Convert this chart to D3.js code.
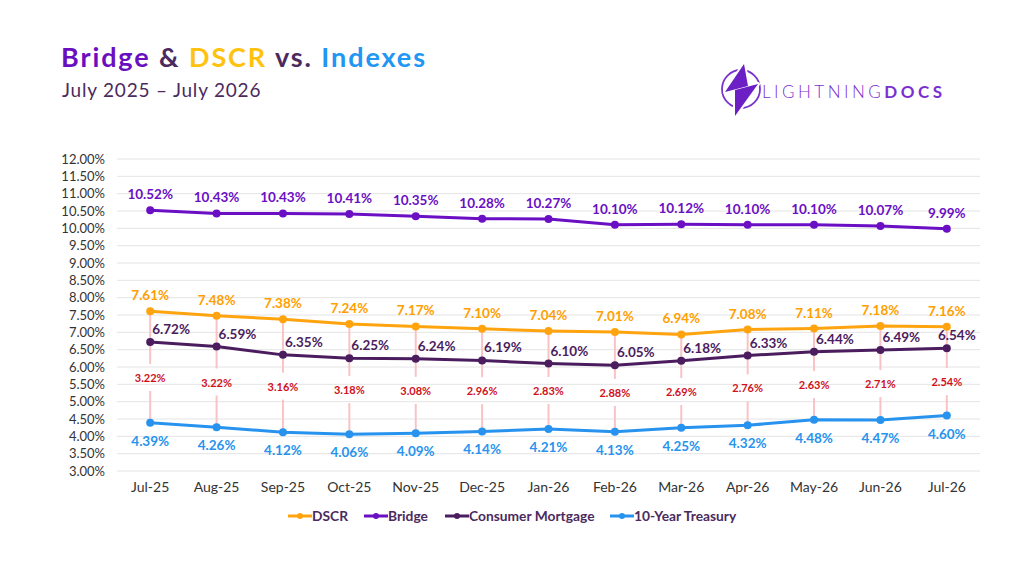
<!DOCTYPE html>
<html lang="en">
<head>
    <meta charset="UTF-8">
    <title>Bridge & DSCR vs. Indexes</title>
    <style>
        body { margin: 0; background: #fff; }
        svg { font-family: Lato, 'Open Sans', sans-serif; }
    </style>
</head>
<body>

    <svg id="svg" width="1024" height="576"></svg>

    <script src="https://d3js.org/d3.v7.min.js"></script>
    <script>
        // chart data
        const months = ['Jul-25', 'Aug-25', 'Sep-25', 'Oct-25', 'Nov-25', 'Dec-25', 'Jan-26',
            'Feb-26', 'Mar-26', 'Apr-26', 'May-26', 'Jun-26', 'Jul-26']
        const dscr = [7.61, 7.48, 7.38, 7.24, 7.17, 7.10, 7.04, 7.01, 6.94, 7.08, 7.11, 7.18, 7.16]
        const bridge = [10.52, 10.43, 10.43, 10.41, 10.35, 10.28, 10.27, 10.10, 10.12, 10.10, 10.10, 10.07, 9.99]
        const mortgage = [6.72, 6.59, 6.35, 6.25, 6.24, 6.19, 6.10, 6.05, 6.18, 6.33, 6.44, 6.49, 6.54]
        const treasury = [4.39, 4.26, 4.12, 4.06, 4.09, 4.14, 4.21, 4.13, 4.25, 4.32, 4.48, 4.47, 4.60]
        const spread = [3.22, 3.22, 3.16, 3.18, 3.08, 2.96, 2.83, 2.88, 2.69, 2.76, 2.63, 2.71, 2.54]
        const yTicks = d3.range(3, 12.001, 0.5)

        const svg = d3.select('#svg')

        // scales
        const xScale = d3.scalePoint()
            .domain(months)
            .range([117, 980])
            .padding(0.5)

        const yScale = d3.scaleLinear()
            .domain([3, 12])
            .range([471, 159])

        // title
        const title = svg.append('text')
            .attr('x', 61)
            .attr('y', 67)
            .style('font-size', '27px')
            .style('font-weight', 'bold')
            .style('letter-spacing', '1.9px')
        title.append('tspan').text('Bridge').attr('fill', '#6a0fbf')
        title.append('tspan').text(' & ').attr('fill', '#4b2a5e')
        title.append('tspan').text('DSCR').attr('fill', '#ffc20e')
        title.append('tspan').text(' vs. ').attr('fill', '#4b2a5e')
        title.append('tspan').text('Indexes').attr('fill', '#2196f3')

        svg.append('text')
            .text('July 2025 – July 2026')
            .attr('x', 62)
            .attr('y', 97)
            .attr('fill', '#4b2a5e')
            .style('font-size', '19px')
            .style('letter-spacing', '0.8px')

        // logo
        const logo = svg.append('g')
        logo.append('circle')
            .attr('cx', 741)
            .attr('cy', 89)
            .attr('r', 19)
            .attr('fill', 'none')
            .attr('stroke', '#7a35cc')
            .attr('stroke-width', 1.8)
        const boltPath = 'M744,64 L725,92 L748,86 Z M735,90 L758,84 L735,116 Z'
        logo.append('path')
            .attr('d', boltPath)
            .attr('fill', 'none')
            .attr('stroke', '#fff')
            .attr('stroke-width', 4)
            .attr('stroke-linejoin', 'round')
        logo.append('path')
            .attr('d', boltPath)
            .attr('fill', '#6c1fc4')
        const logoText = logo.append('text')
            .attr('x', 762)
            .attr('y', 98)
            .attr('fill', '#7a2fd0')
            .style('font-size', '17px')
            .style('letter-spacing', '3.5px')
        logoText.append('tspan').text('LIGHTNING').style('font-weight', 300)
        logoText.append('tspan').text('DOCS').style('font-weight', 'bold')

        // gridlines + y labels
        svg.append('g')
            .selectAll('line')
            .data(yTicks)
            .enter()
            .append('line')
            .attr('x1', 117)
            .attr('x2', 980)
            .attr('y1', d => yScale(d))
            .attr('y2', d => yScale(d))
            .attr('stroke', '#e4e4e4')
            .attr('stroke-width', 1)

        svg.append('g')
            .selectAll('text')
            .data(yTicks)
            .enter()
            .append('text')
            .text(d => d.toFixed(2) + '%')
            .attr('x', 105)
            .attr('y', d => yScale(d) + 4.5)
            .attr('text-anchor', 'end')
            .attr('fill', '#333')
            .style('font-size', '13px')

        // x labels
        svg.append('g')
            .selectAll('text')
            .data(months)
            .enter()
            .append('text')
            .text(d => d)
            .attr('x', d => xScale(d))
            .attr('y', 492)
            .attr('text-anchor', 'middle')
            .attr('fill', '#333')
            .style('font-size', '14px')

        // drop lines between DSCR and Treasury, with spread labels
        const drops = svg.append('g')
        months.forEach((m, i) => {
            const x = xScale(m)
            const top = yScale(dscr[i])
            const bottom = yScale(treasury[i])
            const mid = (top + bottom) / 2 + 11
            drops.append('line')
                .attr('x1', x).attr('x2', x)
                .attr('y1', top).attr('y2', mid - 14)
                .attr('stroke', '#f9c3c6')
                .attr('stroke-width', 2)
            drops.append('line')
                .attr('x1', x).attr('x2', x)
                .attr('y1', mid + 13).attr('y2', bottom)
                .attr('stroke', '#f9c3c6')
                .attr('stroke-width', 2)
            drops.append('text')
                .text(spread[i].toFixed(2) + '%')
                .attr('x', x)
                .attr('y', mid + 4)
                .attr('text-anchor', 'middle')
                .attr('fill', '#d0101c')
                .style('font-size', '11px')
                .style('font-weight', 'bold')
        })

        // series
        const series = [
            { name: 'DSCR', values: dscr, color: '#ffa40f', labelColor: '#ffa000', dx: 0, dy: -11, anchor: 'middle' },
            { name: 'Bridge', values: bridge, color: '#6a0fc4', labelColor: '#6a0fc4', dx: 0, dy: -11, anchor: 'middle' },
            { name: 'Consumer Mortgage', values: mortgage, color: '#4b1d5e', labelColor: '#4b1d5e', dx: 2, dy: -8, anchor: 'start' },
            { name: '10-Year Treasury', values: treasury, color: '#2793ee', labelColor: '#2793ee', dx: 0, dy: 23, anchor: 'middle' }
        ]

        const line = d3.line()
            .x((d, i) => xScale(months[i]))
            .y(d => yScale(d))

        series.forEach(s => {
            const g = svg.append('g')
            g.append('path')
                .attr('d', line(s.values))
                .attr('fill', 'none')
                .attr('stroke', s.color)
                .attr('stroke-width', 3)
                .attr('stroke-linejoin', 'round')
            g.selectAll('circle')
                .data(s.values)
                .enter()
                .append('circle')
                .attr('cx', (d, i) => xScale(months[i]))
                .attr('cy', d => yScale(d))
                .attr('r', 4)
                .attr('fill', s.color)
            g.selectAll('text')
                .data(s.values)
                .enter()
                .append('text')
                .text(d => d.toFixed(2) + '%')
                .attr('x', (d, i) => {
                    const x = xScale(months[i]) + s.dx
                    // keep start-anchored labels inside the plot
                    return s.anchor === 'start' ? Math.min(x, 938) : x
                })
                .attr('y', d => yScale(d) + s.dy)
                .attr('text-anchor', s.anchor)
                .attr('fill', s.labelColor)
                .style('font-size', '13.5px')
                .style('font-weight', 'bold')
        })

        // legend
        const legendX = [288, 364, 445, 610]
        const legend = svg.append('g')
        series.forEach((s, i) => {
            const lg = legend.append('g').attr('transform', `translate(${legendX[i]},516)`)
            lg.append('line')
                .attr('x1', 0).attr('x2', 24)
                .attr('stroke', s.color)
                .attr('stroke-width', 3)
            lg.append('circle')
                .attr('cx', 12)
                .attr('r', 3)
                .attr('fill', s.color)
            lg.append('text')
                .text(s.name)
                .attr('x', 24)
                .attr('y', 5)
                .attr('fill', '#4b2a5e')
                .style('font-size', '13.8px')
                .style('font-weight', 'bold')
        })
    </script>
</body>
</html>
